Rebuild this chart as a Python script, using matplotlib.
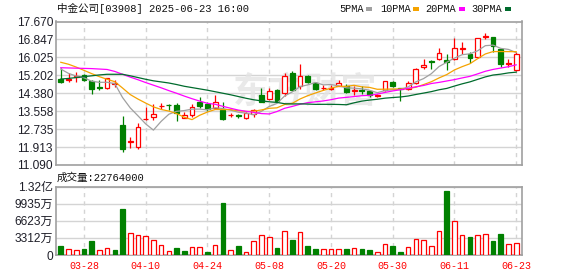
import numpy as np
import pandas as pd
import matplotlib
matplotlib.use("Agg")
import matplotlib.pyplot as plt
from matplotlib.patches import Rectangle

# ---------------- data ----------------
title = "中金公司[03908] 2025-06-23 16:00"
vol_title = "成交量:22764000"

opens = [15.03, 15.00, 15.12, 15.20, 14.96, 14.66, 14.61, 14.82, 12.93, 12.14,
         11.90, 13.19, 13.30, 13.78, 13.86, 13.84, 13.26, 13.38, 13.97, 13.89,
         13.72, 13.61, 13.36, 13.36, 13.26, 13.41, 14.30, 14.12, 14.53, 14.39,
         15.33, 14.71, 15.17, 14.86, 14.60, 14.59, 14.73, 14.69, 14.48, 14.51,
         14.50, 14.27, 14.53, 14.91, 14.60, 14.58, 14.84, 15.57, 15.85, 15.94,
         15.91, 15.94, 16.42, 16.17, 16.03, 16.98, 16.95, 16.40, 15.74, 15.45]
highs = [15.54, 15.30, 15.37, 15.25, 14.99, 14.99, 15.09, 14.99, 13.34, 12.39,
         13.00, 13.74, 13.89, 13.92, 13.88, 13.92, 13.51, 13.89, 14.22, 13.99,
         14.30, 13.97, 13.46, 13.43, 13.53, 13.65, 14.61, 14.61, 14.58, 15.30,
         15.40, 15.71, 15.22, 14.91, 14.76, 14.78, 14.99, 14.79, 14.73, 14.71,
         14.52, 14.35, 14.96, 14.93, 14.63, 14.94, 15.55, 15.95, 15.91, 16.44,
         16.17, 16.90, 16.72, 16.29, 16.92, 17.13, 16.97, 16.44, 15.94, 16.29]
lows = [14.84, 14.91, 14.88, 14.95, 14.33, 14.53, 14.58, 14.65, 11.67, 11.86,
        11.81, 13.17, 13.16, 13.65, 13.61, 13.12, 13.23, 13.31, 13.72, 13.58,
        13.65, 13.15, 13.31, 13.23, 13.20, 13.28, 13.97, 14.07, 13.99, 14.25,
        14.48, 14.57, 14.86, 14.53, 14.53, 14.52, 14.69, 14.41, 14.30, 14.35,
        14.22, 14.22, 14.50, 14.65, 14.02, 14.53, 14.81, 15.48, 15.48, 15.91,
        15.45, 15.91, 16.18, 15.76, 16.01, 16.87, 16.29, 15.60, 15.60, 15.40]
closes = [14.88, 15.05, 15.17, 14.99, 14.56, 14.63, 15.07, 14.85, 11.81, 12.18,
          12.82, 13.21, 13.43, 13.81, 13.82, 13.49, 13.38, 13.76, 13.81, 13.66,
          13.97, 13.19, 13.39, 13.33, 13.46, 13.61, 13.97, 14.50, 14.03, 15.17,
          14.55, 15.17, 14.90, 14.58, 14.62, 14.63, 14.86, 14.45, 14.51, 14.47,
          14.29, 14.31, 14.94, 14.69, 14.57, 14.84, 15.48, 15.68, 15.81, 16.21,
          15.83, 16.44, 16.45, 16.01, 16.90, 17.01, 16.56, 15.71, 15.77, 16.17]
prev_close = 15.02  # close before the first bar (for volume colour)

# volume in 万股
volumes = [1744, 1098, 904, 1163, 2713, 904, 1292, 969, 8915, 4199,
           3811, 3618, 2842, 1873, 711, 1292, 775, 1486, 1486, 581,
           1873, 10078, 904, 1680, 517, 2713, 3811, 3424, 1292, 4587,
           2907, 4393, 1680, 1163, 1098, 1098, 1098, 1163, 1292, 1163,
           904, 517, 2067, 1680, 581, 1486, 3036, 2842, 1680, 4587,
           12403, 6525, 3811, 3488, 3811, 4070, 2713, 4070, 2132, 2276.4]

# moving-average values before enough bars are visible
ma5_head = [15.49, 15.29, 15.17, 15.09]
ma10_head = [15.80, 15.71, 15.58, 15.43, 15.28, 15.14, 15.02, 14.91, 14.62]
ma20_head = [15.55, 15.54, 15.53, 15.52, 15.51, 15.49, 15.47, 15.38, 15.25, 15.12,
             15.00, 14.87, 14.75, 14.63, 14.50, 14.38, 14.25, 14.13, 14.02]
ma30_head = [15.03, 15.06, 15.10, 15.14, 15.18, 15.22, 15.25, 15.25, 15.25, 15.18,
             15.10, 15.02, 14.95, 14.90, 14.85, 14.78, 14.70, 14.64, 14.58, 14.52,
             14.45, 14.38, 14.31, 14.23, 14.15, 14.08, 14.03, 13.99, 13.96]

price_labels = ["11.090", "11.913", "12.735", "13.558", "14.380",
                "15.202", "16.025", "16.847", "17.670"]
price_min, price_max = 11.090, 17.670
vol_labels = ["0", "3312万", "6623万", "9935万", "1.32亿"]
vol_max = 13247
date_labels = ["03-28", "04-10", "04-24", "05-08", "05-20", "05-30", "06-11", "06-23"]
date_pos = [3, 11, 19, 27, 35, 43, 51, 59]

ma_names = ["5PMA", "10PMA", "20PMA", "30PMA"]

# ---------------- style ----------------
RED = "#ff0000"
GREEN = "#008000"
MA_COLORS = ["#a0a0a0", "#f5a300", "#ff00ff", "#006b2d"]
FRAME = "#a0a0a0"
GRID = "#d4d4d4"
MONO = ["Liberation Mono", "Noto Sans CJK SC"]
SANS = ["Liberation Sans", "Noto Sans CJK SC"]

W, H = 578, 276
fig = plt.figure(figsize=(W / 100, H / 100), dpi=100)


def fx(x):
    return x / W


def fy(y):
    return 1 - y / H


L, R = 56, 522
ax = fig.add_axes([fx(L), fy(165), (R - L) / W, (165 - 21.5) / H])
axv = fig.add_axes([fx(L), fy(255), (R - L) / W, (255 - 186.5) / H])

n = len(closes)
x = np.arange(n)
o = np.array(opens)
c = np.array(closes)
up = c >= o
edge = np.where(up, RED, GREEN)
face = np.where(up, "white", GREEN)

# candles
ax.vlines(x, lows, highs, colors=edge, lw=0.9, zorder=3)
bottom = np.minimum(o, c)
height = np.maximum(np.abs(c - o), 0.012)
ax.bar(x, height, bottom=bottom, width=0.62, color=face, edgecolor=edge,
       linewidth=0.9, zorder=4)

# moving averages
cs = pd.Series(closes)


def moving_avg(k, head):
    m = cs.rolling(k).mean().to_numpy()
    m[:k - 1] = head
    return m


mas = [moving_avg(5, ma5_head), moving_avg(10, ma10_head),
       moving_avg(20, ma20_head), moving_avg(30, ma30_head)]
for m, col in zip(mas, MA_COLORS):
    ax.plot(x, m, color=col, lw=0.9, zorder=5)

# volume bars
prevs = np.concatenate([[prev_close], c[:-1]])
vup = c >= prevs
axv.bar(x, volumes, width=0.6, color=np.where(vup, "white", GREEN),
        edgecolor=np.where(vup, RED, GREEN), linewidth=0.9, zorder=3)

# axes styling
xlim = (-0.62, 59.75)
for a in (ax, axv):
    a.set_xlim(*xlim)
    a.set_xticks(date_pos)
    a.grid(axis="x", color=GRID, lw=1, ls=(0, (3, 3)), zorder=0)
    a.grid(axis="y", color=GRID, lw=1, ls="-", zorder=0)
    for s in a.spines.values():
        s.set_color(FRAME)
        s.set_linewidth(1.2)
    a.tick_params(length=0)
    a.set_axisbelow(True)

ax.set_ylim(price_min, price_max)
ax.set_yticks(np.linspace(price_min, price_max, len(price_labels)))
ax.set_yticklabels(price_labels, family=SANS, fontsize=8.6, color="#1e1e28")
ax.tick_params(axis="y", pad=2.2)
ax.tick_params(axis="x", labelbottom=False)

axv.set_ylim(0, vol_max)
axv.set_yticks(np.linspace(0, vol_max, len(vol_labels)))
axv.set_yticklabels(vol_labels, family=SANS, fontsize=8.6, color="#1e1e28")
axv.tick_params(axis="y", pad=2.2)
axv.set_xticklabels(date_labels, family=MONO, fontsize=7.2, color=RED)
axv.tick_params(axis="x", pad=4)

# watermark
ax.text(0.535, 0.51, "东方财富", transform=ax.transAxes, ha="center", va="center",
        fontsize=26, family=["Noto Sans CJK SC"], fontweight="bold",
        color="#e4e4e4", alpha=0.8, zorder=1)

# title texts
fig.text(fx(57), fy(8.6), title, ha="left", va="center", family=MONO,
         fontsize=7.6, color="#111111")
fig.text(fx(57), fy(177.5), vol_title, ha="left", va="center", family=MONO,
         fontsize=7.6, color="#111111")

# legend
leg_x = [339, 380, 425.7, 471.7]
sq_x = [366, 413, 459, 505]
for name, col, tx, sx in zip(ma_names, MA_COLORS, leg_x, sq_x):
    fig.text(fx(tx), fy(8.6), name, ha="left", va="center", family=MONO,
             fontsize=7.4, color="#111111")
    fig.add_artist(Rectangle((fx(sx), fy(10.5)), 5.5 / W, 3.5 / H,
                             transform=fig.transFigure, color=col, lw=0))

fig.savefig("out.png", dpi=100)
